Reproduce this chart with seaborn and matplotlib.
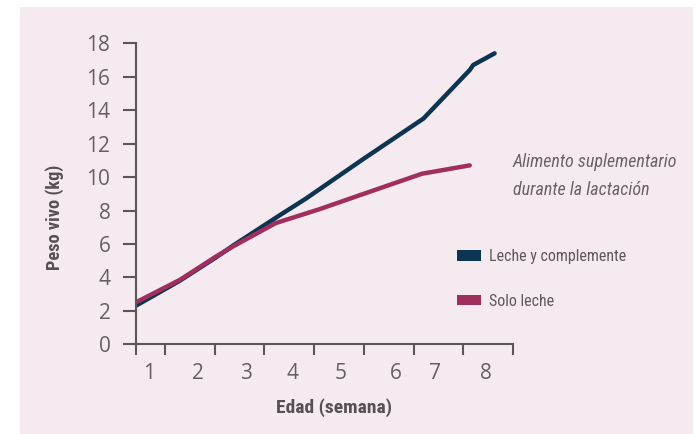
import numpy as np
import pandas as pd
import matplotlib
matplotlib.use("Agg")
import matplotlib.pyplot as plt
import seaborn as sns
from matplotlib.patches import Patch, Rectangle
from matplotlib import font_manager as fm

# ---------------- data ----------------
week_labels = [1, 2, 3, 4, 5, 6, 7, 8]
week_label_pos = [1.18, 2.16, 3.14, 4.06, 5.04, 6.14, 6.94, 7.96]
y_ticks = [0, 2, 4, 6, 8, 10, 12, 14, 16, 18]

series_names = ["Leche y complemente", "Solo leche"]

comp_x = [0.914, 1.8, 2.53, 2.87, 3.8, 4.33, 5.5, 6.4, 6.7, 7.63, 7.7, 8.13]
comp_y = [2.3, 3.8, 5.2, 5.9, 7.7, 8.7, 11.1, 12.9, 13.5, 16.4, 16.7, 17.4]

milk_x = [0.914, 1.8, 2.53, 2.87, 3.73, 4.6, 5.5, 6.67, 7.63]
milk_y = [2.5, 3.85, 5.25, 5.85, 7.25, 8.07, 9.0, 10.2, 10.7]

x_label = "Edad (semana)"
y_label = "Peso vivo (kg)"
note = "Alimento suplementario\ndurante la lactación"

# ---------------- style ----------------
PINK = "#f5eaf0"
NAVY = "#0d3451"
MAG = "#a02f5e"
AXC = "#5d5659"
TICKC = "#665f62"
LABC = "#575052"

sns.set_theme(style="white")
names = {f.name for f in fm.fontManager.ttflist}
cond = next((n for n in ["Roboto Condensed", "Liberation Sans Narrow",
                         "Open Sans Condensed", "DejaVu Sans Condensed"] if n in names), "Roboto")
num_font = "Open Sans" if "Open Sans" in names else "DejaVu Sans"
plt.rcParams["font.family"] = [cond, "DejaVu Sans"]

df = pd.DataFrame({
    "x": comp_x + milk_x,
    "y": comp_y + milk_y,
    "serie": [series_names[0]] * len(comp_x) + [series_names[1]] * len(milk_x),
})

W, H = 696, 434
fig = plt.figure(figsize=(W / 100, H / 100), dpi=100)
fig.patch.set_facecolor("white")
fig.add_artist(Rectangle((20 / W, 0), 673 / W, 427.3 / H, transform=fig.transFigure,
                         facecolor=PINK, edgecolor="none", zorder=0))

ax = fig.add_axes([135.7 / W, (H - 344.3) / H, 377.3 / W, 301 / H])
ax.set_facecolor("none")

sns.lineplot(data=df, x="x", y="y", hue="serie", hue_order=series_names,
             palette=[NAVY, MAG], linewidth=3.2, estimator=None, sort=False,
             legend=False, ax=ax)
for ln in ax.lines:
    ln.set_solid_capstyle("round")
    ln.set_solid_joinstyle("round")

ax.set_xlim(0.914, 8.5)
ax.set_ylim(0, 18)

for s in ["top", "right"]:
    ax.spines[s].set_visible(False)
for s in ["left", "bottom"]:
    ax.spines[s].set_color(AXC)
    ax.spines[s].set_linewidth(1.5)

ax.set_yticks(y_ticks)
ax.set_yticklabels([str(v) for v in y_ticks])
ax.tick_params(axis="y", which="major", direction="out", length=9.2, width=1.5,
               color=AXC, pad=9, labelsize=15, labelcolor=TICKC, left=True)

ax.set_xticks(week_label_pos)
ax.set_xticklabels([str(v) for v in week_labels])
ax.set_xticks([0.914] + list(np.arange(1.5, 8.6, 1.0)), minor=True)
ax.tick_params(axis="x", which="major", length=0, pad=13.8, labelsize=15,
               labelcolor=TICKC, bottom=True)
ax.tick_params(axis="x", which="minor", direction="out", length=8, width=1.5,
               color=AXC, bottom=True)
for lab in ax.get_xticklabels() + ax.get_yticklabels():
    lab.set_fontfamily(num_font)

ax.set_xlabel(x_label, fontsize=14, fontweight="bold", color=LABC, va="center")
ax.set_ylabel(y_label, fontsize=13.2, fontweight="bold", color=LABC, va="center")
ax.xaxis.set_label_coords((334 - 135.7) / 377.3, -(408 - 344.3) / 301)
ax.yaxis.set_label_coords((55 - 135.7) / 377.3, (344.3 - 217) / 301)

handles = [Patch(facecolor=NAVY, edgecolor="none"), Patch(facecolor=MAG, edgecolor="none")]
leg = ax.legend(handles, series_names, loc="upper left",
                bbox_to_anchor=(457 / W, 1 - 249 / H), bbox_transform=fig.transFigure,
                frameon=False, fontsize=11.5, handlelength=1.5, handleheight=0.62,
                handletextpad=0.5, labelspacing=1.85, borderpad=0, borderaxespad=0)
for t in leg.get_texts():
    t.set_color("#5f585b")

fig.text(513 / W, 1 - 176 / H, note, fontsize=13, style="italic", color="#6a6366",
         ha="left", va="center", linespacing=1.65)

fig.savefig("out.png", dpi=100, facecolor="white")
